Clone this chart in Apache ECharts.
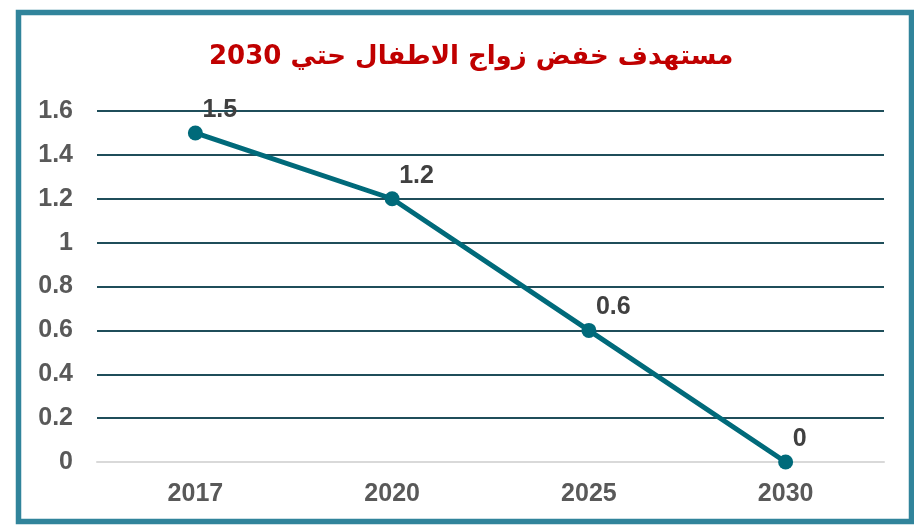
<!DOCTYPE html>
<html>
<head>
<meta charset="utf-8">
<script src="https://cdn.jsdelivr.net/npm/echarts@6/dist/echarts.min.js"></script>
<style>
html,body{margin:0;padding:0;background:#fff;}
#c{width:914px;height:528px;}
</style>
</head>
<body>
<div id="c"></div>
<script>
var titleText = 'مستهدف خفض زواج الاطفال حتي 2030';
var categories = ['2017', '2020', '2025', '2030'];
var values = [1.5, 1.2, 0.6, 0];
var yMin = 0, yMax = 1.6, yStep = 0.2;

var chart = echarts.init(document.getElementById('c'), null, {renderer: 'canvas'});
var splitColors = [];
for (var i = 0; i <= Math.round((yMax - yMin) / yStep); i++) {
  splitColors.push(i === 0 ? '#d9d9d9' : '#1f4e5a');
}
chart.setOption({
  backgroundColor: '#ffffff',
  animation: false,
  title: {
    text: titleText,
    left: 204,
    top: 39,
    textStyle: {
      color: '#c00000',
      fontSize: 26,
      fontWeight: 'bold',
      fontFamily: 'DejaVu Sans'
    }
  },
  graphic: [{
    type: 'rect',
    shape: {x: 18.5, y: 12.5, width: 893, height: 509},
    style: {fill: 'none', stroke: '#31849b', lineWidth: 5.5},
    z: 100
  }],
  grid: {left: 97, right: 30, top: 111, bottom: 66},
  xAxis: {
    type: 'category',
    data: categories,
    boundaryGap: true,
    axisLine: {show: true, lineStyle: {color: '#d9d9d9', width: 2}},
    axisTick: {show: false},
    axisLabel: {
      margin: 20,
      color: '#595959',
      fontSize: 25,
      fontWeight: 'bold',
      fontFamily: 'Liberation Sans'
    }
  },
  yAxis: {
    type: 'value',
    min: yMin,
    max: yMax,
    interval: yStep,
    axisLine: {show: false},
    axisTick: {show: false},
    axisLabel: {
      margin: 24,
      color: '#595959',
      fontSize: 25,
      fontWeight: 'bold',
      fontFamily: 'Liberation Sans'
    },
    splitLine: {show: true, lineStyle: {color: splitColors, width: 2}}
  },
  series: [{
    type: 'line',
    data: values,
    symbol: 'circle',
    symbolSize: 15,
    lineStyle: {color: '#006a7a', width: 5},
    itemStyle: {color: '#006a7a'},
    label: {
      show: true,
      position: 'top',
      align: 'left',
      offset: [7, 2],
      color: '#404040',
      fontSize: 25,
      fontWeight: 'bold',
      fontFamily: 'Liberation Sans'
    },
    z: 5
  }]
});
</script>
</body>
</html>
